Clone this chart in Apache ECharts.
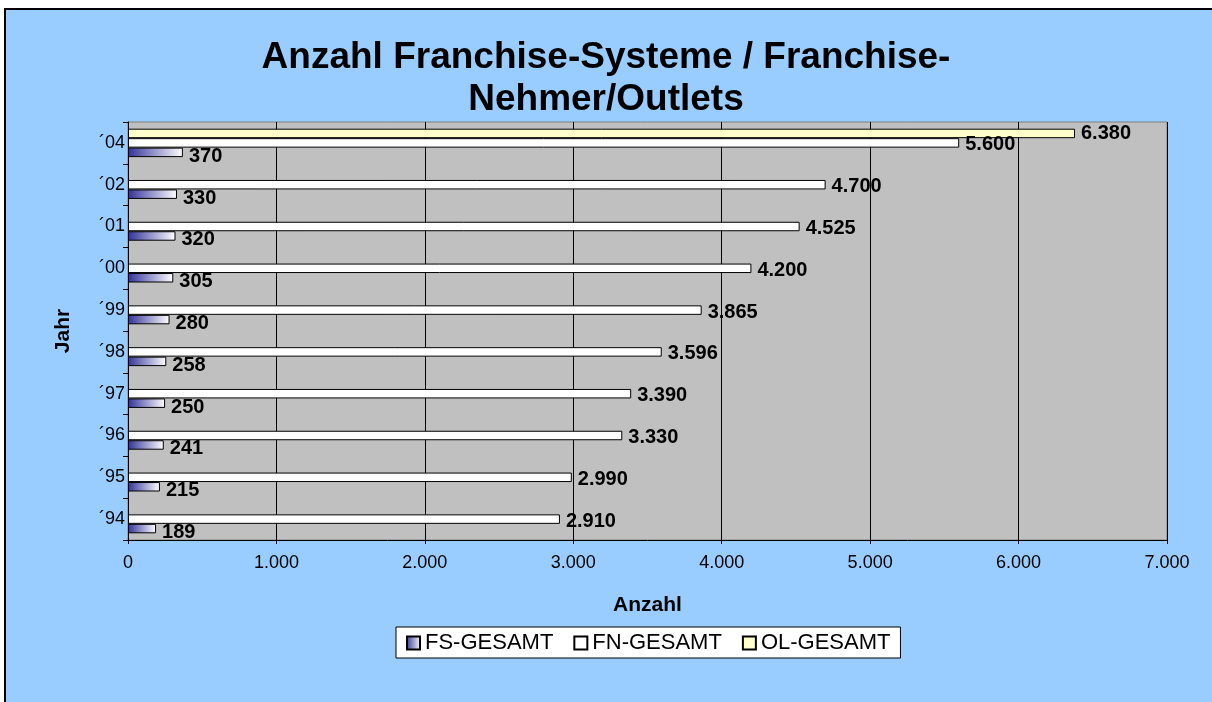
<!DOCTYPE html>
<html>
<head>
<meta charset="utf-8">
<script src="https://cdn.jsdelivr.net/npm/echarts@6/dist/echarts.min.js"></script>
<style>
  html, body { margin: 0; padding: 0; background: #fff; overflow: hidden; }
  .panel {
    position: absolute; left: 4px; top: 8px; width: 1230px; height: 720px;
    background: #99ccff; border: 2px solid #000; box-sizing: border-box;
  }
  #chart { position: absolute; left: 0; top: 0; width: 1212px; height: 702px; }
</style>
</head>
<body>
<div class="panel"></div>
<div id="chart"></div>
<script>
// Jahre von unten nach oben
const years = ['´94', '´95', '´96', '´97', '´98', '´99', '´00', '´01', '´02', '´04']
const fsGesamt = [189, 215, 241, 250, 258, 280, 305, 320, 330, 370]
const fnGesamt = [2910, 2990, 3330, 3390, 3596, 3865, 4200, 4525, 4700, 5600]
const olGesamt = [null, null, null, null, null, null, null, null, null, 6380]
const xTicks = { min: 0, max: 7000, step: 1000 }

const font = "'Liberation Sans', Arial, sans-serif"
// Tausenderpunkt wie im Original
function fmt(v) {
  return String(v).replace(/\d(?=(\d{3})+\b)/g, '$&.')
}

const labelStyle = (dy) => ({
  show: true,
  position: 'right',
  distance: 6,
  offset: [0, dy],
  fontFamily: font,
  fontSize: 20,
  fontWeight: 'bold',
  color: '#000',
  formatter: p => fmt(p.value)
})

const myChart = echarts.init(document.getElementById('chart'))
const option = {
  backgroundColor: 'transparent',
  animation: false,
  title: {
    text: 'Anzahl Franchise-Systeme / Franchise-\nNehmer/Outlets',
    left: 'center',
    top: 32,
    textStyle: {
      fontFamily: font,
      fontSize: 37,
      fontWeight: 'bold',
      color: '#000',
      lineHeight: 42
    }
  },
  grid: {
    left: 128,
    right: 45,
    top: 122,
    bottom: 162,
    show: true,
    backgroundColor: '#c0c0c0',
    borderColor: '#808080',
    borderWidth: 1
  },
  legend: {
    left: 396,
    top: 627,
    backgroundColor: '#fff',
    borderColor: '#000',
    borderWidth: 1,
    borderRadius: 0,
    padding: [5, 10, 4, 10],
    itemWidth: 13,
    itemHeight: 13,
    itemGap: 20,
    icon: 'rect',
    textStyle: { fontFamily: font, fontSize: 22, color: '#000', padding: [0, 0, 0, 0] },
    data: ['FS-GESAMT', 'FN-GESAMT', 'OL-GESAMT']
  },
  xAxis: {
    type: 'value',
    min: xTicks.min,
    max: xTicks.max,
    interval: xTicks.step,
    name: 'Anzahl',
    nameLocation: 'middle',
    nameGap: 55,
    nameTextStyle: { fontFamily: font, fontSize: 21, fontWeight: 'bold', color: '#000' },
    axisLine: { show: true, lineStyle: { color: '#000', width: 1 } },
    axisTick: { show: true, length: 4, lineStyle: { color: '#000' } },
    splitLine: { show: true, lineStyle: { color: '#000', width: 1 } },
    axisLabel: {
      margin: 14,
      fontFamily: font,
      fontSize: 18,
      color: '#000',
      formatter: v => fmt(v)
    }
  },
  yAxis: {
    type: 'category',
    data: years,
    name: 'Jahr',
    nameLocation: 'middle',
    nameRotate: 90,
    nameGap: 54,
    nameTextStyle: { fontFamily: font, fontSize: 21, fontWeight: 'bold', color: '#000' },
    axisLine: { show: true, lineStyle: { color: '#000', width: 1 } },
    axisTick: { show: true, length: 5, alignWithLabel: false, lineStyle: { color: '#000' } },
    splitLine: { show: false },
    axisLabel: { margin: 3, fontFamily: font, fontSize: 18, color: '#000' }
  },
  // Reihenfolge umgekehrt, damit FS unten im Band liegt
  series: [
    {
      name: 'OL-GESAMT',
      type: 'bar',
      data: olGesamt,
      barCategoryGap: '32%',
      barGap: '0%',
      itemStyle: { color: '#ffffcc', borderColor: '#000', borderWidth: 1 },
      label: labelStyle(0)
    },
    {
      name: 'FN-GESAMT',
      type: 'bar',
      data: fnGesamt,
      barCategoryGap: '32%',
      barGap: '0%',
      itemStyle: { color: '#ffffff', borderColor: '#000', borderWidth: 1 },
      label: labelStyle(2)
    },
    {
      name: 'FS-GESAMT',
      type: 'bar',
      data: fsGesamt,
      barCategoryGap: '32%',
      barGap: '0%',
      itemStyle: {
        color: {
          type: 'linear', x: 0, y: 0, x2: 1, y2: 0,
          colorStops: [{ offset: 0, color: '#333399' }, { offset: 1, color: '#ffffff' }]
        },
        borderColor: '#000',
        borderWidth: 1
      },
      label: labelStyle(4)
    }
  ]
}
option && myChart.setOption(option)
</script>
</body>
</html>
